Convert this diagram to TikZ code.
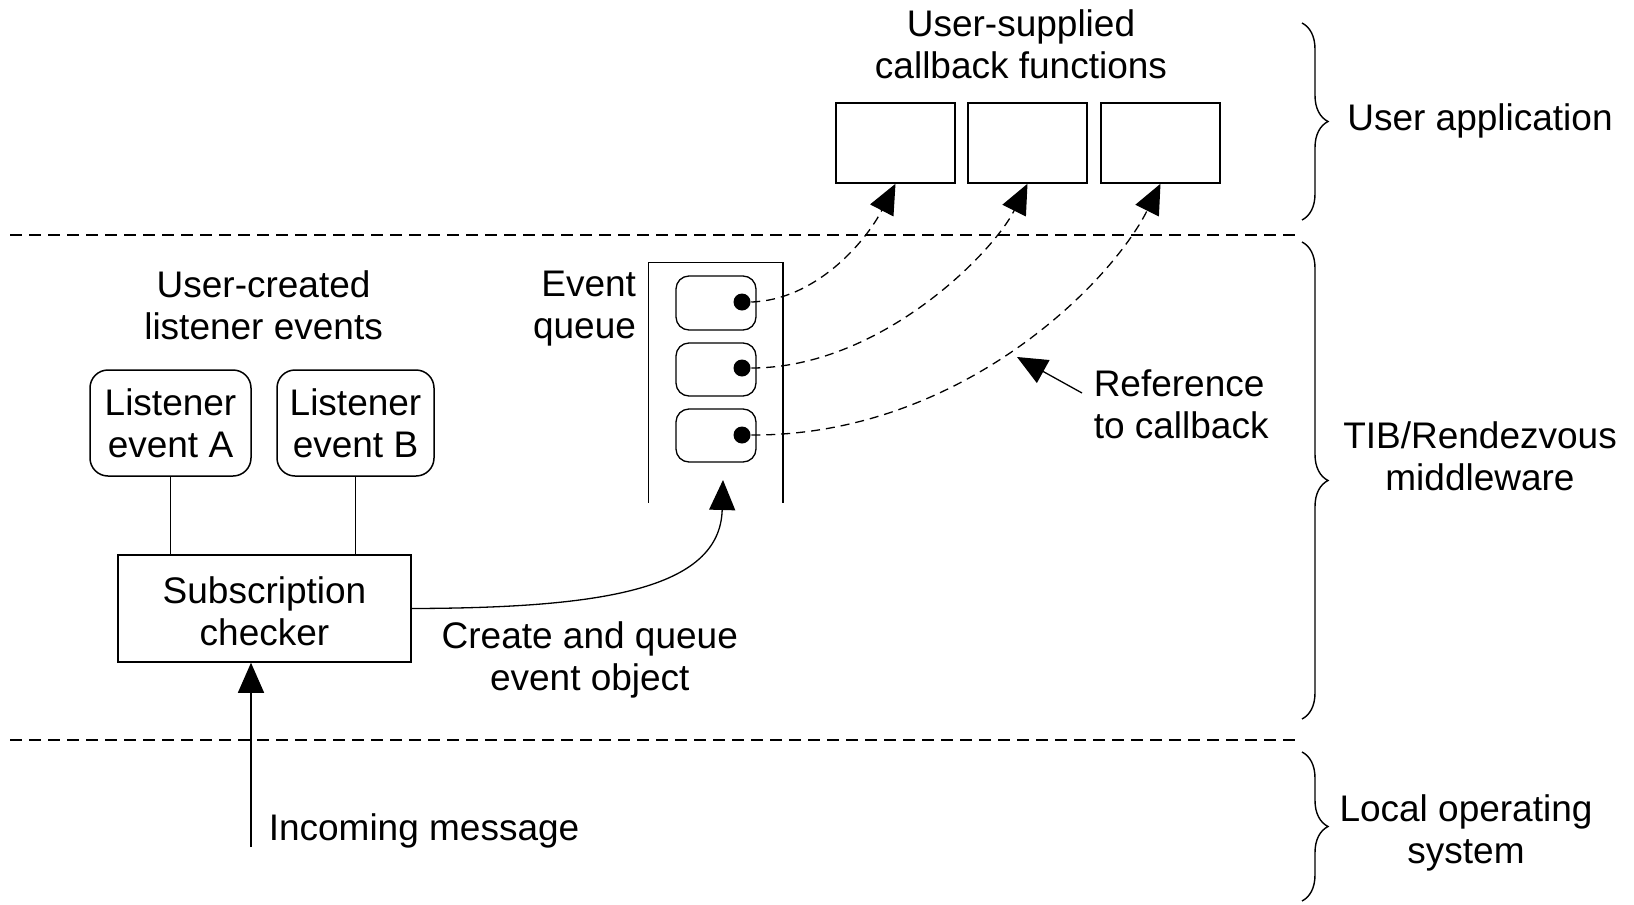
\documentclass[tikz,border=0pt]{standalone}
\usepackage{fontspec}
\setmainfont{Liberation Sans}
\usetikzlibrary{arrows.meta,decorations.pathreplacing}

\begin{document}
\begin{tikzpicture}[x=1pt,y=-1pt,line width=1.5pt,
  every node/.style={inner sep=0pt,font=\fontsize{37}{42}\selectfont},
  lbl/.style={align=center},
  cbbox/.style={draw,minimum width=119pt,minimum height=80pt},
  listener/.style={draw,rounded corners=18pt,align=center,minimum height=106pt},
  qslot/.style={draw,line width=1.3pt,rounded corners=13pt,minimum width=80pt,minimum height=53pt},
  refdot/.style={circle,fill,minimum size=17pt},
  layersep/.style={line width=1.4pt,dash pattern=on 12pt off 7pt},
  tipped/.style={line width=1.3pt,-{Triangle[length=30pt,width=26pt]}},
  refline/.style={tipped,dash pattern=on 9pt off 6pt},
  lbrace/.style={line width=1.4pt,decorate,decoration={brace,amplitude=26pt}}]

\useasboundingbox (0,0) rectangle (1634,905);

% layer separators
\draw[layersep] (10,235) -- (1300,235);
\draw[layersep] (10,740) -- (1300,740);

% layer braces and their labels
\draw[lbrace] (1302,23) -- (1302,220);
\draw[lbrace] (1302,242) -- (1302,719);
\draw[lbrace] (1302,752) -- (1302,901);
\node[anchor=base] (app) at (1480,130) {User application};
\node[lbl] (mid) at (1480,460.3) {TIB/Rendezvous\\middleware\vphantom{p}};
\node[lbl] (os) at (1466,833.4) {Local operating\\system};

% user-supplied callback functions
\node[lbl] (cbtitle) at (1021,48.2) {User-supplied\\callback functions\vphantom{p}};
\node[cbbox] (c1) at (895.5,143) {};
\node[cbbox] (c2) at (1027.5,143) {};
\node[cbbox] (c3) at (1160.5,143) {};

% listener events and subscription checker
\node[lbl] (lstitle) at (263.6,308.7) {User-created\\listener events\vphantom{p}};
\node[listener,minimum width=161pt] (la) at (170.5,423) {Listener\\event A};
\node[listener,minimum width=157pt] (lb) at (355.5,423) {Listener\\event B};
\node[draw,minimum width=293pt,minimum height=107pt] (sub) at (264.5,608.5) {};
\node[lbl] (subtxt) at (264.5,611) {Subscription\\checker};
\draw (la.south) -- (la.south |- sub.north);
\draw (lb.south) -- (lb.south |- sub.north);

% event queue (open at the bottom)
\node[minimum width=133pt,minimum height=239pt] (q) at (715.5,382.5) {};
\draw (q.south west) |- (q.north) -| (q.south east);
\node[align=right,anchor=east] (qtitle) at (636.7,308.7) {Event\\queue};
\node[qslot,minimum height=54pt] (s1) at (716,303) {};
\node[qslot] (s2) at (716,369.5) {};
\node[qslot] (s3) at (716,435.5) {};
\node[refdot] (d1) at (742,302) {};
\node[refdot] (d2) at (742,368) {};
\node[refdot] (d3) at (742,435) {};

% references from queued events to callbacks
\draw[refline] (d1.east) .. controls (815,300) and (865,243) .. (c1.south);
\draw[refline] (d2.east) .. controls (880,368) and (993,253) .. (c2.south);
\draw[refline] (d3.east) .. controls (960,436) and (1111,283) .. (c3.south);

\node[align=left,anchor=west] (reflbl) at (1093,404) {Reference\\to callback};
\coordinate (reftail) at (1082,393);
\coordinate (refhead) at (1017,357);
\draw[tipped] (reftail) -- (refhead);

% checker creates and queues event objects
\coordinate (qin) at (723,480);
\draw[tipped] (sub.east) .. controls (600,608) and (720,590) .. (qin);
\node[lbl] (qlbl) at (589.8,660.4) {Create and queue\\event object};

% incoming message from the operating system
\coordinate (inc) at (251,847);
\draw[tipped] (inc) -- (inc |- sub.south);
\node[anchor=base west] (inclbl) at (268,840) {Incoming message};

\end{tikzpicture}
\end{document}
